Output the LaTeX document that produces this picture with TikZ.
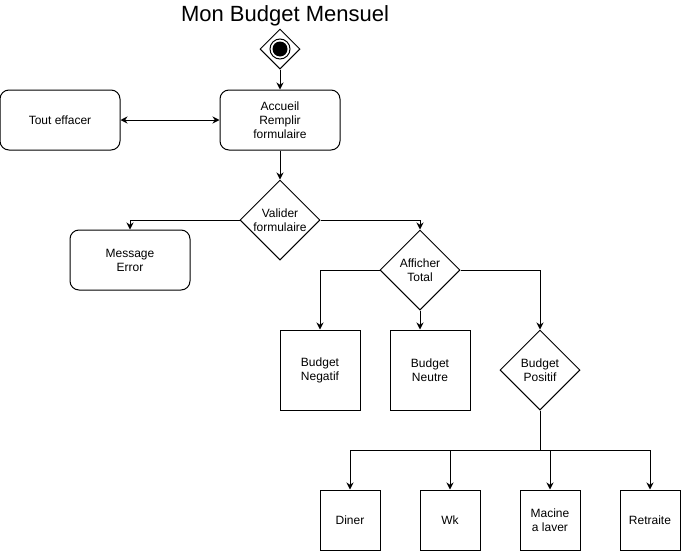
\documentclass[tikz,border=0pt]{standalone}
\usepackage{fontspec}
\setmainfont{Liberation Sans}
\usetikzlibrary{shapes.geometric,arrows.meta}
\begin{document}
\begin{tikzpicture}[x=1pt,y=-1pt,
 every node/.style={font=\fontsize{12}{14}\selectfont, align=center},
 rbox/.style={draw, rounded corners=9pt, minimum width=120pt, minimum height=60pt, inner sep=0pt, line width=1pt},
 sbox/.style={draw, minimum width=80pt, minimum height=80pt, inner sep=0pt, line width=1pt},
 tbox/.style={draw, minimum width=60pt, minimum height=60pt, inner sep=0pt, line width=1pt},
 dec/.style={draw, diamond, minimum width=80pt, minimum height=80pt, inner sep=0pt, line width=1pt},
 conn/.style={line width=1pt, -{Stealth[length=7pt,width=7pt]}},
 dconn/.style={line width=1pt, {Stealth[length=7pt,width=7pt]}-{Stealth[length=7pt,width=7pt]}}
]
\useasboundingbox (0,0) rectangle (681,552);
\node (title) at (285,16) {\fontsize{22}{26}\selectfont Mon Budget Mensuel};
\node[draw, diamond, minimum width=40pt, minimum height=40pt, inner sep=0pt, line width=1pt] (start) at (280,49) {};
\draw[line width=1pt] (start.center) circle (10pt);
\fill (start.center) circle (7.5pt);
\node[rbox] (acc) at (280,120) {Accueil\\Remplir\\formulaire};
\node[rbox] (eff) at (60,120) {Tout effacer};
\node[dec] (val) at (280,220) {Valider\\formulaire};
\node[rbox] (err) at (130,260) {Message\\Error};
\node[dec] (aff) at (420,270) {Afficher\\Total};
\node[sbox] (neg) at (320,370) {Budget\\Negatif};
\node[sbox] (neu) at (430,370) {Budget\\Neutre};
\node[dec] (pos) at (540,370) {Budget\\Positif};
\coordinate (split) at (540,450);
\node[tbox] (din) at (350,520) {Diner};
\node[tbox] (wk) at (450,520) {Wk};
\node[tbox] (mac) at (550,520) {Macine\\a laver};
\node[tbox] (ret) at (650,520) {Retraite};
\draw[conn] (start.south) -- (acc.north);
\draw[dconn] (eff.east) -- (acc.west);
\draw[conn] (acc.south) -- (val.north);
\draw[conn] (val.west) -| (err.north);
\draw[conn] (val.east) -| (aff.north);
\draw[conn] (aff.west) -| (neg.north);
\draw[conn] (aff.south) -- (aff.south |- neu.north);
\draw[conn] (aff.east) -| (pos.north);
\draw[line width=1pt] (pos.south) -- (split);
\draw[conn] (split) -| (din.north);
\draw[conn] (split) -| (wk.north);
\draw[conn] (split) -| (mac.north);
\draw[conn] (split) -| (ret.north);
\end{tikzpicture}
\end{document}
